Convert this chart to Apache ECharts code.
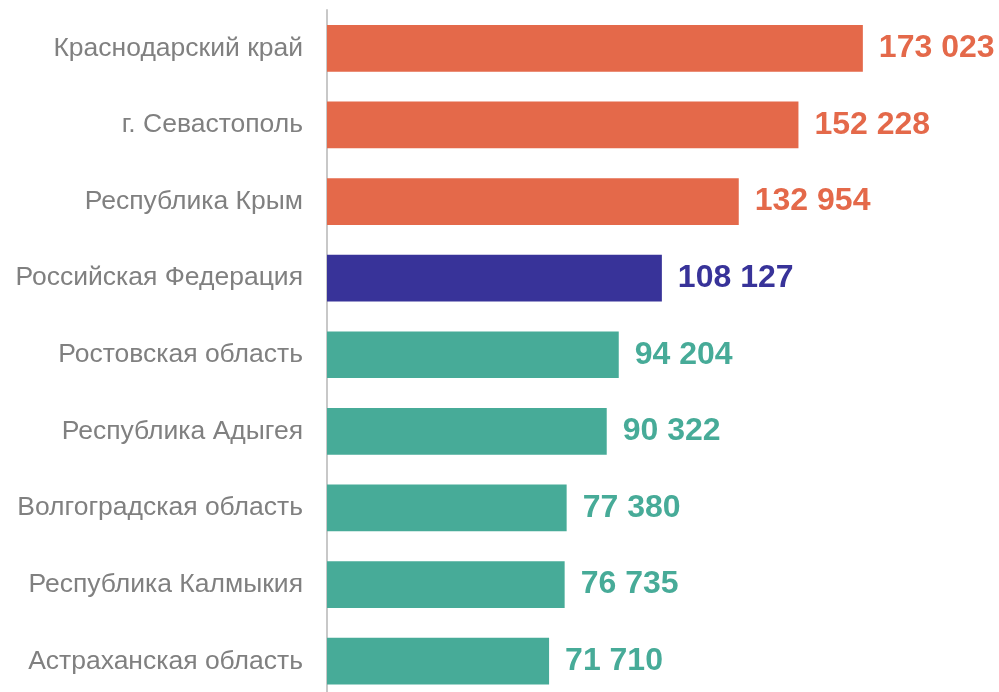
<!DOCTYPE html>
<html>
<head>
<meta charset="utf-8">
<script src="https://cdn.jsdelivr.net/npm/echarts@6/dist/echarts.min.js"></script>
<style>
  html, body { margin: 0; padding: 0; background: #fff; }
  #chart { width: 999px; height: 692px; }
</style>
</head>
<body>
<div id="chart"></div>
<script>
const regions = [
  "Краснодарский край",
  "г. Севастополь",
  "Республика Крым",
  "Российская Федерация",
  "Ростовская область",
  "Республика Адыгея",
  "Волгоградская область",
  "Республика Калмыкия",
  "Астраханская область"
];
const values = [173023, 152228, 132954, 108127, 94204, 90322, 77380, 76735, 71710];
const barColors = ["#E4694A", "#E4694A", "#E4694A", "#383399", "#47AB98", "#47AB98", "#47AB98", "#47AB98", "#47AB98"];

const chart = echarts.init(document.getElementById("chart"));

// thousands separated by a space, as in the source
const fmt = (v) => String(v).replace(/\B(?=(\d{3})+(?!\d))/g, " ");
const FONT = "'Liberation Sans', Arial, sans-serif";

chart.setOption({
  animation: false,
  grid: { left: 327, right: 52.6, top: 10, bottom: -7.5, outerBoundsMode: "none" },
  xAxis: {
    type: "value",
    min: 0,
    max: 200000,
    show: false
  },
  yAxis: {
    type: "category",
    inverse: true,
    data: regions,
    axisLine: { show: true, lineStyle: { color: "#c8c8c8", width: 2 } },
    axisTick: { show: false },
    axisLabel: {
      color: "#808080",
      fontSize: 26.5,
      fontFamily: FONT,
      margin: 24
    }
  },
  series: [
    {
      type: "bar",
      barCategoryGap: "39%",
      data: values.map((v, i) => ({
        value: v,
        itemStyle: { color: barColors[i] },
        label: { color: barColors[i] }
      })),
      label: {
        show: true,
        position: "right",
        distance: 16,
        fontSize: 32,
        fontWeight: "bold",
        fontFamily: FONT,
        formatter: (p) => fmt(p.value)
      }
    }
  ]
});
</script>
</body>
</html>
